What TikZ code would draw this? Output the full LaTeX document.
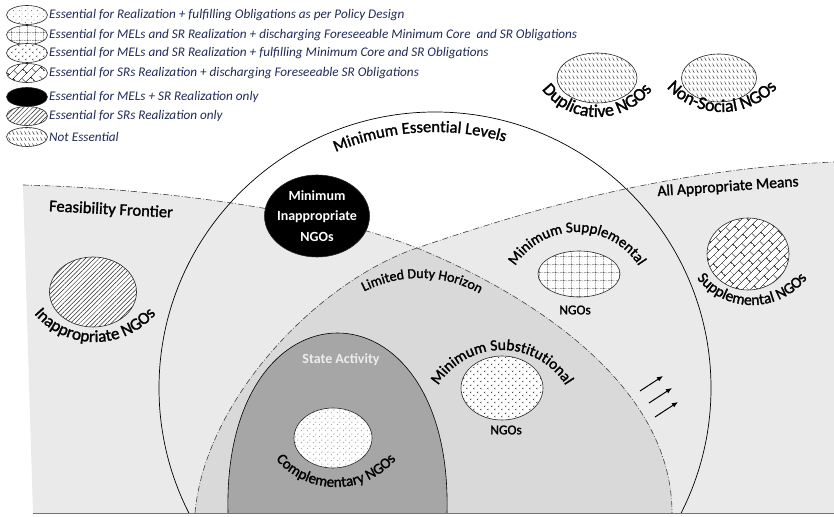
\documentclass[tikz,border=0pt]{standalone}
\usepackage{fontspec}
\setmainfont{Carlito}
\newfontfamily\lblfont{Carlito}[FakeBold=1.5]
\usetikzlibrary{shapes.geometric,patterns.meta,decorations.text,arrows.meta}
\definecolor{groundgrey}{RGB}{234,234,234}
\definecolor{dutygrey}{RGB}{217,217,217}
\definecolor{stategrey}{RGB}{166,166,166}
\definecolor{keyblue}{RGB}{32,42,88}

\tikzdeclarepattern{name=sparsedots, type=uncolored,
  bounding box={(0pt,0pt) and (6pt,6pt)}, tile size={(6pt,6pt)},
  code={\fill (1.5pt,1.5pt) circle (0.5pt); \fill (4.5pt,4.5pt) circle (0.5pt);}}
\tikzdeclarepattern{name=dotgrid, type=uncolored,
  bounding box={(0pt,0pt) and (8pt,8pt)}, tile size={(8pt,8pt)},
  code={\draw[line width=0.4pt, dash pattern=on 0.8pt off 0.8pt] (0pt,4pt) -- (8pt,4pt) (4pt,0pt) -- (4pt,8pt);}}
\tikzdeclarepattern{name=chevrons, type=uncolored,
  bounding box={(0pt,0pt) and (7pt,7pt)}, tile size={(7pt,7pt)},
  code={\draw[line width=0.4pt] (2.6pt,6pt) -- (1.4pt,5.2pt) -- (2.6pt,4.4pt) (6.1pt,2.5pt) -- (4.9pt,1.7pt) -- (6.1pt,0.9pt);}}
\tikzdeclarepattern{name=diagbricks, type=uncolored,
  bounding box={(0pt,0pt) and (14pt,11pt)}, tile size={(14pt,11pt)}, tile transformation={rotate=45},
  code={\draw[line width=0.5pt] (0pt,2.75pt) -- (14pt,2.75pt) (0pt,8.25pt) -- (14pt,8.25pt)
    (3.5pt,2.75pt) -- (3.5pt,8.25pt) (10.5pt,8.25pt) -- (10.5pt,11pt) (10.5pt,0pt) -- (10.5pt,2.75pt);}}
\tikzdeclarepattern{name=ticks, type=uncolored,
  bounding box={(0pt,0pt) and (4pt,5.5pt)}, tile size={(4pt,5.5pt)},
  code={\draw[line width=0.5pt] (0.6pt,4.8pt) -- (2.8pt,1.2pt);}}

% curved label: centre, radius, start, end, size, text
\newcommand{\arclabel}[6]{%
  \path[decorate, decoration={text along path, text align=center,
    text={|\lblfont\fontsize{#5}{#5}\selectfont|#6}}] (#1) ++(#3:#2) arc[start angle=#3, end angle=#4, radius=#2];}

\tikzset{
  ngo/.style={ellipse, draw=black!85, line width=0.6pt, inner sep=0pt, preaction={fill=white}},
  keyoval/.style={ngo, minimum width=41pt, minimum height=19pt},
  keytext/.style={anchor=west, inner sep=0pt, text=keyblue, font=\fontsize{13.2}{15}\selectfont\itshape},
  frontier/.style={draw=black!75, line width=0.6pt, dash pattern=on 6pt off 2pt on 0.8pt off 2pt},
  lbl/.style={font=\lblfont\fontsize{#1}{#1}\selectfont},
  complfill/.style={pattern=sparsedots, pattern color=black!80},
  minsuppfill/.style={pattern=dotgrid, pattern color=black!80},
  minsubstfill/.style={pattern=chevrons, pattern color=black!80},
  suppfill/.style={pattern=diagbricks, pattern color=black},
  mininappfill/.style={fill=black},
  inappfill/.style={pattern={Lines[angle=45,distance=3.2pt,line width=0.5pt]}, pattern color=black!85},
  dupfill/.style={pattern=ticks, pattern color=black!85},
}

\begin{document}
\begin{tikzpicture}[x=1pt,y=1pt]
  \useasboundingbox (0,0) rectangle (834,516);
  % ground below both frontiers
  \fill[groundgrey] (33,3) -- (23,331) .. controls (150,328) and (320,307) .. (417,268)
    .. controls (500,296) and (650,346) .. (834,354) -- (834,3) -- cycle;
  % limited duty horizon
  \fill[dutygrey] (195,3) .. controls (205,116) and (317,234) .. (417,268)
    .. controls (520,226) and (672,136) .. (672,3) -- cycle;
  % state activity
  \draw[fill=stategrey, line width=0.6pt] (228,3) .. controls (222,243) and (453,243) .. (447,3);
  \draw[frontier] (23,331) .. controls (150,328) and (320,307) .. (417,268)
    .. controls (520,226) and (672,136) .. (672,3);
  \draw[frontier] (195,3) .. controls (205,116) and (317,234) .. (417,268)
    .. controls (500,296) and (650,346) .. (834,354);
  % minimum essential levels
  \coordinate (melc) at (435,128);
  \begin{scope}
    \clip (0,3) rectangle (834,516);
    \draw[line width=0.7pt] (melc) circle[radius=276];
  \end{scope}
  \draw[black!55, line width=1pt] (33,3) -- (834,3);

  % legend
  \foreach \y/\fillsty/\txt [count=\i] in {
    501/complfill/Essential for Realization + fulfilling Obligations as per Policy Design,
    481/minsuppfill/Essential for MELs and SR Realization + discharging Foreseeable Minimum Core~ and SR Obligations,
    463/minsubstfill/Essential for MELs and SR Realization + fulfilling Minimum Core and SR Obligations,
    443/suppfill/Essential for SRs Realization + discharging Foreseeable SR Obligations,
    419/mininappfill/Essential for MELs + SR Realization only,
    400/inappfill/Essential for SRs Realization only,
    379/dupfill/Not Essential}
  {
    \node[keyoval, \fillsty] (key\i) at (27,\y) {};
    \node[keytext] (keytxt\i) at (49,\y) {\txt};
  }

  % NGO ovals
  \node[ngo, dupfill, minimum width=80pt, minimum height=50pt] (dupl) at (597,438) {};
  \node[ngo, dupfill, minimum width=75pt, minimum height=48pt] (nonsoc) at (719,438) {};
  \node[ngo, mininappfill, minimum width=105pt, minimum height=82pt] (mininapp) at (317,300) {};
  \node[font=\fontsize{14}{20.5}\selectfont\bfseries, text=white, align=center] (mininapptxt) at (mininapp) {Minimum\\Inappropriate\\NGOs};
  \node[ngo, inappfill, minimum width=87pt, minimum height=70pt] (inapp) at (93,224) {};
  \node[ngo, minsuppfill, minimum width=82pt, minimum height=46pt] (minsupp) at (579,242) {};
  \node[ngo, suppfill, minimum width=82pt, minimum height=72pt] (supp) at (748,262) {};
  \node[ngo, minsubstfill, minimum width=82pt, minimum height=64pt] (minsubst) at (502,128) {};
  \node[ngo, complfill, minimum width=78pt, minimum height=60pt] (compl) at (333,78) {};

  % labels
  \arclabel{melc}{256}{125}{62}{16.5}{Minimum Essential Levels}
  \arclabel{420,116}{122}{120}{58}{14}{Limited Duty Horizon}
  \arclabel{577,211}{73}{150}{30}{15}{Minimum Supplemental}
  \arclabel{502,91}{75}{152}{28}{15.5}{Minimum Substitutional}
  \arclabel{752,281}{70}{200}{340}{15.5}{Supplemental NGOs}
  \arclabel{336,108}{79}{205}{335}{15}{Complementary NGOs}
  \arclabel{95,254}{80}{205}{335}{17}{Inappropriate NGOs}
  \arclabel{597,468}{69}{200}{340}{18}{Duplicative NGOs}
  \arclabel{722,479}{75}{205}{335}{18}{Non-Social NGOs}
  \node[lbl=16.5, rotate=-3] (feas) at (111,306) {Feasibility Frontier};
  \node[lbl=15.5, rotate=4] (aam) at (728,329) {All Appropriate Means};
  \node[lbl=13.5] (suppngo) at (575,206) {NGOs};
  \node[lbl=13.5] (substngo) at (506,86) {NGOs};
  \node[font=\fontsize{14}{14}\selectfont\bfseries, text=black!7] (state) at (341,156) {State Activity};

  % expansion arrows
  \foreach \p in {(640,125),(649,113),(655,99)}
    \draw[line width=1pt, -{Latex[length=6pt,width=5pt]}] \p -- ++(23,15);
\end{tikzpicture}
\end{document}
